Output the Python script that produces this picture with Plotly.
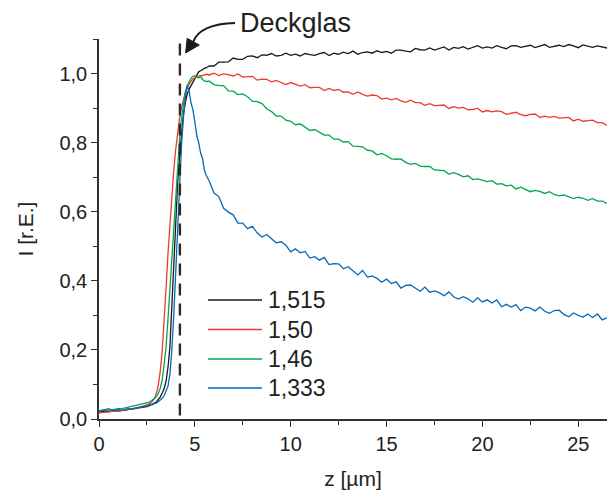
import plotly.graph_objects as go

# ---------------- data ----------------
z_a = [0.0, 0.25, 0.5, 0.75, 1.0, 1.25, 1.5, 1.75, 2.0, 2.25, 2.5]
z_b = [2.6, 2.7, 2.8, 2.9, 3.0, 3.1, 3.2, 3.3, 3.4, 3.5,
       3.6, 3.7, 3.8, 3.9, 4.0, 4.1, 4.2, 4.3, 4.4, 4.5,
       4.6, 4.7, 4.8, 4.9, 5.0, 5.1, 5.2, 5.3, 5.4, 5.5, 5.6]
z_c = [5.75,
       6.0, 6.25, 6.5, 6.75, 7.0, 7.25, 7.5, 7.75, 8.0, 8.25, 8.5, 8.75,
       9.0, 9.25, 9.5, 9.75, 10.0, 10.25, 10.5, 10.75, 11.0, 11.25, 11.5, 11.75,
       12.0, 12.25, 12.5, 12.75, 13.0, 13.25, 13.5, 13.75, 14.0, 14.25, 14.5, 14.75,
       15.0, 15.25, 15.5, 15.75, 16.0, 16.25, 16.5, 16.75, 17.0, 17.25, 17.5, 17.75,
       18.0, 18.25, 18.5, 18.75, 19.0, 19.25, 19.5, 19.75, 20.0, 20.25, 20.5, 20.75,
       21.0, 21.25, 21.5, 21.75, 22.0, 22.25, 22.5, 22.75, 23.0, 23.25, 23.5, 23.75,
       24.0, 24.25, 24.5, 24.75, 25.0, 25.25, 25.5, 25.75, 26.0, 26.25, 26.5]
z_um = z_a + z_b + z_c

i_1515 = ([0.020, 0.022, 0.021, 0.024, 0.023, 0.026, 0.027, 0.029, 0.031, 0.033, 0.036] +
          [0.038, 0.040, 0.043, 0.046, 0.050, 0.056, 0.064, 0.075, 0.088, 0.110,
           0.150, 0.210, 0.330, 0.470, 0.580, 0.680, 0.760, 0.830, 0.880, 0.915,
           0.940, 0.955, 0.965, 0.975, 0.985, 0.995, 1.005, 1.008, 1.012, 1.015, 1.017] +
          [1.022,
           1.022, 1.033, 1.033, 1.034, 1.045, 1.041, 1.041, 1.050, 1.051, 1.046, 1.054, 1.053,
           1.058, 1.051, 1.053, 1.059, 1.053, 1.056, 1.051, 1.058, 1.055, 1.053, 1.058, 1.061,
           1.052, 1.059, 1.056, 1.062, 1.058, 1.065, 1.056, 1.061, 1.063, 1.059, 1.066, 1.061,
           1.064, 1.059, 1.068, 1.068, 1.065, 1.063, 1.073, 1.069, 1.068, 1.074, 1.068, 1.073,
           1.077, 1.068, 1.076, 1.073, 1.078, 1.071, 1.075, 1.081, 1.074, 1.077, 1.074, 1.081,
           1.076, 1.072, 1.080, 1.081, 1.076, 1.078, 1.082, 1.075, 1.080, 1.084, 1.076, 1.079,
           1.082, 1.078, 1.084, 1.080, 1.075, 1.083, 1.080, 1.076, 1.080, 1.076, 1.074])

i_150 = ([0.018, 0.020, 0.021, 0.022, 0.024, 0.025, 0.027, 0.030, 0.033, 0.036, 0.040] +
         [0.043, 0.047, 0.052, 0.060, 0.075, 0.100, 0.140, 0.200, 0.280, 0.380,
          0.480, 0.570, 0.650, 0.720, 0.780, 0.830, 0.870, 0.900, 0.925, 0.945,
          0.960, 0.970, 0.978, 0.984, 0.988, 0.991, 0.993, 0.995, 0.994, 0.997, 0.998] +
         [0.996,
          1.001, 0.994, 0.999, 0.997, 0.993, 0.999, 0.990, 0.991, 0.992, 0.981, 0.984, 0.983,
          0.976, 0.980, 0.973, 0.968, 0.974, 0.968, 0.964, 0.968, 0.959, 0.960, 0.960, 0.951,
          0.957, 0.951, 0.954, 0.946, 0.947, 0.940, 0.947, 0.940, 0.935, 0.938, 0.936, 0.926,
          0.929, 0.924, 0.928, 0.921, 0.917, 0.923, 0.916, 0.916, 0.908, 0.913, 0.907, 0.908,
          0.909, 0.899, 0.904, 0.900, 0.902, 0.895, 0.896, 0.900, 0.889, 0.893, 0.889, 0.892,
          0.890, 0.882, 0.885, 0.888, 0.881, 0.878, 0.882, 0.883, 0.873, 0.877, 0.873, 0.876,
          0.871, 0.871, 0.873, 0.863, 0.868, 0.862, 0.864, 0.865, 0.858, 0.858, 0.850])

i_146 = ([0.024, 0.026, 0.025, 0.028, 0.030, 0.031, 0.034, 0.036, 0.040, 0.043, 0.046] +
         [0.048, 0.052, 0.055, 0.060, 0.065, 0.075, 0.090, 0.115, 0.160, 0.210,
          0.290, 0.380, 0.480, 0.570, 0.660, 0.740, 0.810, 0.870, 0.910, 0.945,
          0.965, 0.978, 0.986, 0.992, 0.994, 0.990, 0.987, 0.992, 0.983, 0.979, 0.977] +
         [0.978,
          0.968, 0.965, 0.965, 0.950, 0.949, 0.939, 0.941, 0.933, 0.920, 0.919, 0.913, 0.898,
          0.890, 0.877, 0.877, 0.865, 0.862, 0.852, 0.854, 0.845, 0.835, 0.838, 0.830, 0.822,
          0.822, 0.810, 0.810, 0.802, 0.803, 0.790, 0.789, 0.788, 0.778, 0.776, 0.765, 0.769,
          0.762, 0.753, 0.752, 0.753, 0.743, 0.737, 0.740, 0.732, 0.731, 0.731, 0.721, 0.720,
          0.719, 0.709, 0.713, 0.708, 0.701, 0.704, 0.693, 0.695, 0.690, 0.687, 0.690, 0.680,
          0.681, 0.675, 0.677, 0.666, 0.671, 0.665, 0.658, 0.662, 0.659, 0.653, 0.658, 0.650,
          0.646, 0.649, 0.644, 0.638, 0.642, 0.639, 0.633, 0.638, 0.631, 0.631, 0.624])

i_1333 = ([0.022, 0.025, 0.030, 0.024, 0.028, 0.026, 0.030, 0.029, 0.033, 0.036, 0.038] +
          [0.040, 0.043, 0.041, 0.045, 0.046, 0.050, 0.054, 0.060, 0.068, 0.080,
           0.095, 0.130, 0.200, 0.300, 0.430, 0.560, 0.680, 0.790, 0.870, 0.930,
           0.965, 0.950, 0.915, 0.895, 0.860, 0.820, 0.800, 0.770, 0.755, 0.720, 0.705] +
          [0.689,
           0.654, 0.644, 0.610, 0.599, 0.591, 0.567, 0.567, 0.551, 0.558, 0.539, 0.527, 0.534,
           0.522, 0.510, 0.513, 0.503, 0.484, 0.493, 0.481, 0.485, 0.466, 0.470, 0.460, 0.468,
           0.447, 0.450, 0.449, 0.435, 0.441, 0.428, 0.417, 0.430, 0.411, 0.414, 0.407, 0.396,
           0.405, 0.392, 0.397, 0.379, 0.387, 0.388, 0.379, 0.370, 0.382, 0.367, 0.371, 0.366,
           0.357, 0.368, 0.354, 0.347, 0.354, 0.348, 0.338, 0.351, 0.339, 0.345, 0.336, 0.345,
           0.325, 0.332, 0.324, 0.331, 0.314, 0.324, 0.321, 0.313, 0.324, 0.312, 0.306, 0.314,
           0.315, 0.303, 0.296, 0.307, 0.300, 0.295, 0.304, 0.294, 0.304, 0.287, 0.293])

series_names = ["1,515", "1,50", "1,46", "1,333"]
series_values = [i_1515, i_150, i_146, i_1333]
series_colors = ["#1a1a1a", "#ee3b2b", "#00a650", "#0868b5"]

deckglas_z = 4.22
deckglas_label = "Deckglas"
x_title = "z [µm]"
y_title = "I [r.E.]"
x_ticks = [0, 5, 10, 15, 20, 25]
y_ticks = [0.0, 0.2, 0.4, 0.6, 0.8, 1.0]

FONT = "Liberation Sans, Arial, sans-serif"
AXC = "#333333"
TXT = "#222222"

fig = go.Figure()
for name, vals, col in zip(series_names, series_values, series_colors):
    fig.add_trace(go.Scatter(x=z_um, y=vals, mode="lines", name=name,
                             line=dict(color=col, width=1.3), showlegend=False))

# dashed "Deckglas" line
fig.add_shape(type="line", xref="x", yref="y", x0=deckglas_z, x1=deckglas_z,
              y0=0.01, y1=1.09, line=dict(color="#2a2a2a", width=2.4, dash="12px,8px"))

# curved arrow + label
fig.add_shape(type="path", xref="paper", yref="paper",
              path="M 0.2677,1.0421 Q 0.1988,1.0395 0.1856,0.9929",
              line=dict(color="#1a1a1a", width=2))
fig.add_shape(type="path", xref="paper", yref="paper",
              path="M 0.1705,0.9632 L 0.1736,1.0018 L 0.1974,0.9842 Z",
              line=dict(color="#1a1a1a", width=1), fillcolor="#1a1a1a")
fig.add_annotation(x=0.2736, y=1.042, xref="paper", yref="paper", text=deckglas_label,
                   showarrow=False, xanchor="left", yanchor="middle",
                   font=dict(family=FONT, size=27, color=TXT))

# manual legend (long line samples as in the reference)
leg_y = [0.3132, 0.2355, 0.1579, 0.0816]
for name, col, yy in zip(series_names, series_colors, leg_y):
    fig.add_shape(type="line", xref="paper", yref="paper", x0=0.2146, x1=0.3209,
                  y0=yy, y1=yy, line=dict(color=col, width=1.4))
    fig.add_annotation(x=0.3287, y=yy, xref="paper", yref="paper", text=name,
                       showarrow=False, xanchor="left", yanchor="middle",
                       font=dict(family=FONT, size=23, color=TXT))

fig.update_layout(
    width=607, height=491,
    margin=dict(l=99, r=0, t=39, b=72),
    paper_bgcolor="white", plot_bgcolor="white",
    separators=",.",
    font=dict(family=FONT, size=20, color=TXT),
    showlegend=False,
)
fig.update_xaxes(range=[0, 26.5], tickvals=x_ticks, ticks="outside", ticklen=6,
                 tickwidth=1.3, tickcolor=AXC, showline=True, linecolor=AXC, linewidth=1.5,
                 showgrid=False, zeroline=False,
                 minor=dict(ticks="outside", ticklen=4, tickwidth=1.2, tickcolor=AXC, dtick=2.5,
                            showgrid=False),
                 tickfont=dict(family=FONT, size=20, color=TXT),
                 title=dict(text=x_title, font=dict(family=FONT, size=21, color=TXT),
                            standoff=18))
fig.update_yaxes(range=[0, 1.1001], tickvals=y_ticks, tickformat=".1f", ticks="outside",
                 ticklen=6, tickwidth=1.3, tickcolor=AXC, showline=True, linecolor=AXC,
                 linewidth=1.5, showgrid=False, zeroline=False,
                 minor=dict(ticks="outside", ticklen=4, tickwidth=1.2, tickcolor=AXC,
                            dtick=0.1, showgrid=False),
                 tickfont=dict(family=FONT, size=20, color=TXT),
                 title=dict(text=y_title, font=dict(family=FONT, size=21, color=TXT),
                            standoff=20))

fig.write_html("out.html")
